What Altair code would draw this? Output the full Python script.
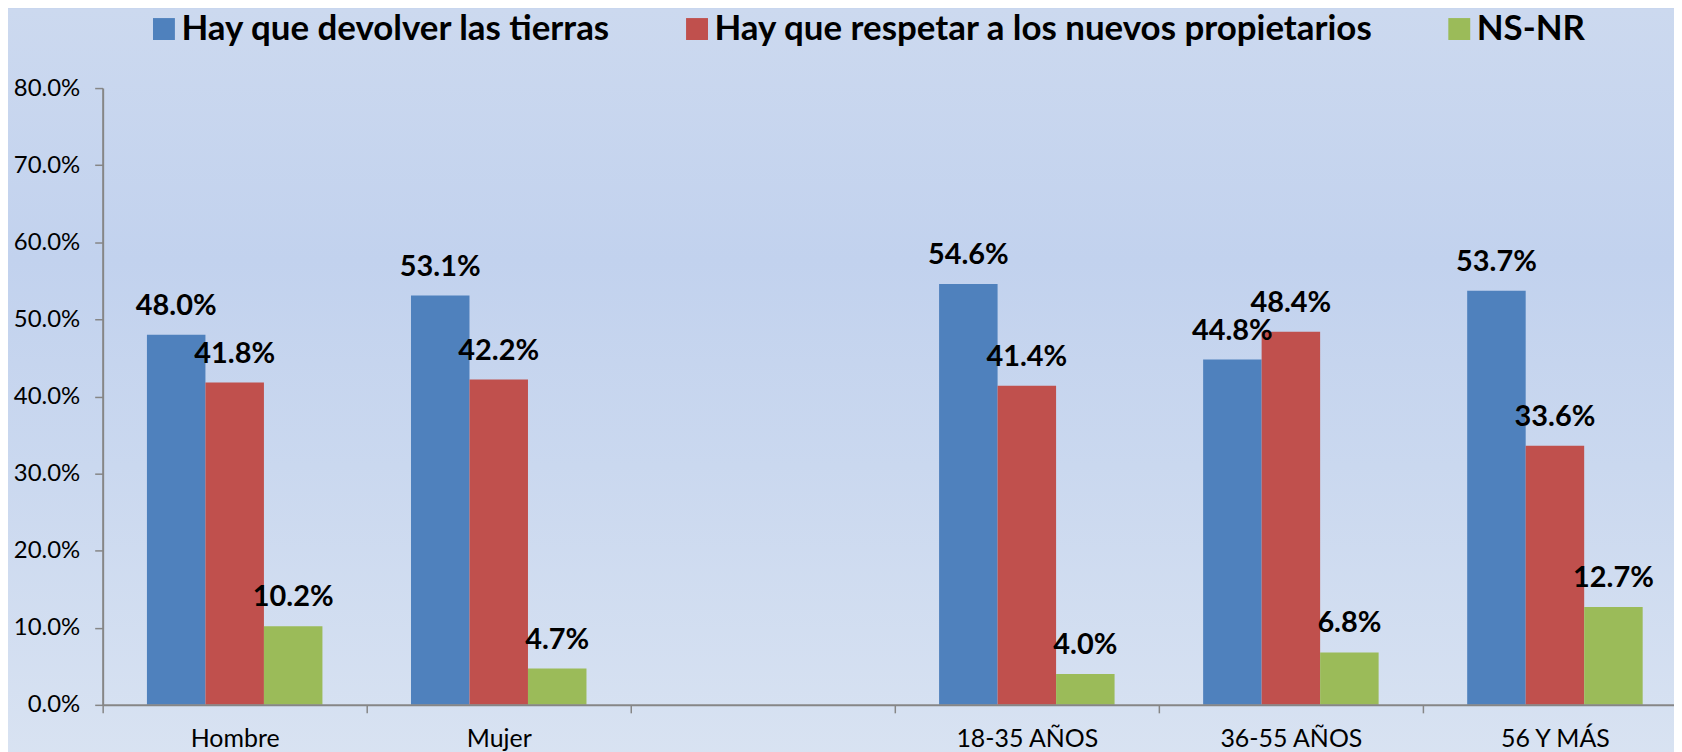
import altair as alt
import pandas as pd

categories = ["Hombre", "Mujer", " ", "18-35 AÑOS", "36-55 AÑOS", "56 Y MÁS"]
series = ["Hay que devolver las tierras", "Hay que respetar a los nuevos propietarios", "NS-NR"]
colors = ["#4F81BD", "#C0504D", "#9BBB59"]

devolver = [48.0, 53.1, None, 54.6, 44.8, 53.7]
respetar = [41.8, 42.2, None, 41.4, 48.4, 33.6]
nsnr = [10.2, 4.7, None, 4.0, 6.8, 12.7]

rows = []
for i, c in enumerate(categories):
    for s, vals in zip(series, [devolver, respetar, nsnr]):
        if vals[i] is not None:
            rows.append({"cat": c, "serie": s, "valor": vals[i]})
df = pd.DataFrame(rows)

W = 1577
RANGE = 1590
H = 619
PAD_L, PAD_T, PAD_B = 95, 79, 56

FONT = "Lato"

xscale = alt.Scale(domain=categories, range=[0, RANGE], paddingInner=0, paddingOuter=0)
yscale = alt.Scale(domain=[0, 80])

bg = alt.Chart(pd.DataFrame({"a": [0]})).mark_rect(
    color=alt.Gradient(
        gradient="linear",
        stops=[
            alt.GradientStop(offset=0, color="#CCD9EF"),
            alt.GradientStop(offset=0.33, color="#C2D2EE"),
            alt.GradientStop(offset=0.6, color="#CAD8EF"),
            alt.GradientStop(offset=1, color="#D9E3F2"),
        ],
        x1=0, x2=0, y1=0, y2=1,
    )
).encode(
    x=alt.value(-PAD_L), x2=alt.value(W + 20),
    y=alt.value(-PAD_T), y2=alt.value(H + PAD_B + 10),
)

base = alt.Chart(df).encode(
    x=alt.X("cat:N", scale=xscale, sort=categories,
            axis=alt.Axis(title=None, labelAngle=0, tickBand="extent", tickSize=8,
                          labelFontSize=25, labelFont=FONT, labelColor="#000000",
                          labelPadding=14, domainColor="#868686", tickColor="#868686",
                          domainWidth=2, tickWidth=1.5, zindex=2)),
    xOffset=alt.XOffset("serie:N", sort=series,
                        scale=alt.Scale(domain=series, paddingInner=0, paddingOuter=0.757)),
)

bars = base.mark_bar(stroke=None).encode(
    y=alt.Y("valor:Q", scale=yscale,
            axis=alt.Axis(title=None, values=[0, 10, 20, 30, 40, 50, 60, 70, 80],
                          labelExpr="format(datum.value, '.1f') + '%'",
                          grid=False, tickSize=8, labelPadding=15, labelFontSize=24,
                          labelFont=FONT, labelColor="#000000",
                          domainColor="#868686", tickColor="#868686",
                          domainWidth=2, tickWidth=1.5, zindex=2)),
    color=alt.Color("serie:N", scale=alt.Scale(domain=series, range=colors),
                    legend=alt.Legend(title=None, orient="none", direction="horizontal",
                                      legendX=44, legendY=-77, symbolType="square",
                                      symbolSize=484, symbolStrokeWidth=0,
                                      labelFontSize=35, labelFont=FONT, labelFontWeight="bold",
                                      labelColor="#000000", labelOffset=0, columnPadding=68,
                                      padding=0, labelLimit=1000, zindex=3)),
)

labels = base.transform_calculate(
    lbl="format(datum.valor, '.1f') + '%'"
).mark_text(fontSize=29, font=FONT, fontWeight="bold", color="#000000",
            baseline="alphabetic", dy=-20).encode(
    y=alt.Y("valor:Q", scale=yscale),
    text="lbl:N",
)

chart = alt.layer(bg, bars, labels).properties(
    width=W, height=H,
    autosize=alt.AutoSizeParams(type="none"),
    padding={"left": PAD_L, "top": PAD_T, "bottom": PAD_B, "right": 0},
    background="#C8D6EE",
).configure_view(stroke=None)

chart.save("out.html", embed_options={"renderer": "svg", "actions": False})
